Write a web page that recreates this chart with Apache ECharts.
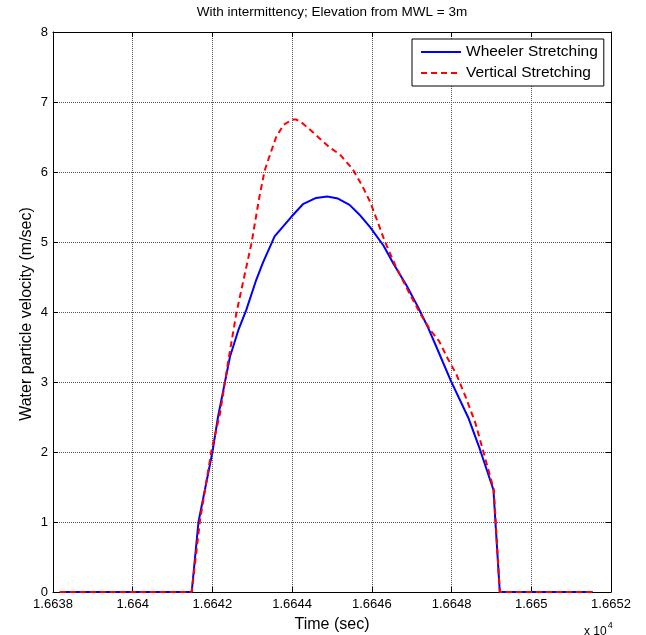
<!DOCTYPE html>
<html><head><meta charset="utf-8">
<script src="https://cdn.jsdelivr.net/npm/echarts@6/dist/echarts.min.js"></script>
<style>html,body{margin:0;padding:0;background:#fff}#c{width:646px;height:635px}</style>
</head><body><div id="c"></div>
<script>
const titleText = 'With intermittency; Elevation from MWL = 3m';
const xName = 'Time (sec)';
const yName = 'Water particle velocity (m/sec)';
const xMin = 16638, xMax = 16652, xStep = 2;
const yMin = 0, yMax = 8, yStep = 1;

const wheelerTime = [16638.17, 16641.48, 16641.65, 16642.0, 16642.14, 16642.44, 16642.65, 16642.85, 16643.1, 16643.27, 16643.56, 16643.98, 16644.27, 16644.6, 16644.88, 16645.15, 16645.44, 16645.69, 16645.96, 16646.29, 16646.56, 16646.86, 16647.15, 16647.4, 16647.62, 16647.98, 16648.42, 16648.71, 16649.05, 16649.21, 16651.54];
const wheelerVel  = [0, 0, 1.0, 2.0, 2.5, 3.36, 3.74, 4.03, 4.46, 4.71, 5.08, 5.36, 5.54, 5.63, 5.65, 5.62, 5.53, 5.39, 5.21, 4.95, 4.67, 4.39, 4.08, 3.79, 3.5, 3.02, 2.49, 2.04, 1.46, 0, 0];

const verticalTime = [16638.17, 16641.48, 16641.69, 16641.98, 16642.19, 16642.4, 16642.6, 16642.75, 16642.98, 16643.17, 16643.31, 16643.44, 16643.6, 16643.78, 16644.0, 16644.1, 16644.23, 16644.5, 16644.69, 16644.94, 16645.2, 16645.52, 16645.77, 16645.96, 16646.19, 16646.31, 16646.6, 16646.94, 16647.22, 16647.46, 16647.69, 16647.9, 16648.12, 16648.35, 16648.6, 16648.8, 16649.06, 16649.21, 16651.54];
const verticalVel  = [0, 0, 1.03, 2.03, 2.55, 3.31, 3.98, 4.38, 4.98, 5.62, 6.02, 6.24, 6.5, 6.67, 6.75, 6.75, 6.71, 6.58, 6.48, 6.35, 6.25, 6.04, 5.79, 5.57, 5.22, 5.03, 4.65, 4.27, 3.97, 3.75, 3.58, 3.34, 3.11, 2.79, 2.41, 2.0, 1.46, 0, 0];

const seriesNames = ['Wheeler Stretching', 'Vertical Stretching'];

const FONT = '"Liberation Sans", Arial, sans-serif';
const zip = (a, b) => a.map((t, i) => [t, b[i]]);

const chart = echarts.init(document.getElementById('c'), null, {renderer: 'canvas'});
const gridL = 53, gridR = 35, gridT = 32, gridB = 43;
const tick = {show: true, inside: true, length: 5, lineStyle: {color: '#000', width: 1}};
const axisLine = {show: true, onZero: false, lineStyle: {color: '#000', width: 1}};
const gridLine = {show: true, lineStyle: {color: '#555', type: [1, 1], width: 1}};
chart.setOption({
  animation: false,
  backgroundColor: '#fff',
  textStyle: {fontFamily: FONT, color: '#000'},
  grid: {left: gridL, right: gridR, top: gridT, bottom: gridB, containLabel: false},
  xAxis: [{
    type: 'value', min: xMin, max: xMax, interval: xStep, position: 'bottom',
    axisLine: axisLine, axisTick: tick,
    axisLabel: {color: '#000', fontSize: 13, fontFamily: FONT, margin: 6,
      formatter: v => String(Number((v / 1e4).toFixed(4)))},
    splitLine: gridLine
  }, {
    type: 'value', min: xMin, max: xMax, interval: xStep, position: 'top',
    axisLine: axisLine, axisTick: tick, axisLabel: {show: false}, splitLine: {show: false}
  }],
  yAxis: [{
    type: 'value', min: yMin, max: yMax, interval: yStep, position: 'left',
    axisLine: axisLine, axisTick: tick,
    axisLabel: {color: '#000', fontSize: 13, fontFamily: FONT, margin: 5},
    splitLine: gridLine
  }, {
    type: 'value', min: yMin, max: yMax, interval: yStep, position: 'right',
    axisLine: axisLine, axisTick: tick, axisLabel: {show: false}, splitLine: {show: false}
  }],
  legend: {
    left: 412, top: 39, orient: 'vertical',
    backgroundColor: '#fff', borderColor: '#000', borderWidth: 1,
    padding: [5, 6, 5, 8], itemGap: 5, itemWidth: 40, itemHeight: 14,
    itemStyle: {opacity: 0},
    textStyle: {fontSize: 15.5, fontFamily: FONT, color: '#000'},
    data: seriesNames
  },
  series: [{
    name: seriesNames[0], type: 'line', symbol: 'none', data: zip(wheelerTime, wheelerVel),
    lineStyle: {color: '#0000ff', width: 2}, itemStyle: {color: '#0000ff'}, z: 3
  }, {
    name: seriesNames[1], type: 'line', symbol: 'none', data: zip(verticalTime, verticalVel),
    lineStyle: {color: '#ff0000', width: 2, type: [6, 4]}, itemStyle: {color: '#ff0000'}, z: 4
  }],
  graphic: [
    {type: 'text', x: 332, y: 12, style: {text: titleText, font: '13.5px ' + FONT, fill: '#000', align: 'center', verticalAlign: 'middle'}},
    {type: 'text', x: 332, y: 625, style: {text: xName, font: '16px ' + FONT, fill: '#000', align: 'center', verticalAlign: 'middle'}},
    {type: 'text', x: 27, y: 314, rotation: Math.PI / 2, style: {text: yName, font: '16px ' + FONT, fill: '#000', align: 'center', verticalAlign: 'middle'}},
    {type: 'text', x: 584, y: 621, style: {
      text: '{b|x 10}{s|4}', fill: '#000',
      rich: {b: {fontSize: 12, fontFamily: FONT, verticalAlign: 'bottom'}, s: {fontSize: 9, fontFamily: FONT, verticalAlign: 'top', padding: [0, 0, 8, 1]}}
    }}
  ]
});
</script></body></html>
